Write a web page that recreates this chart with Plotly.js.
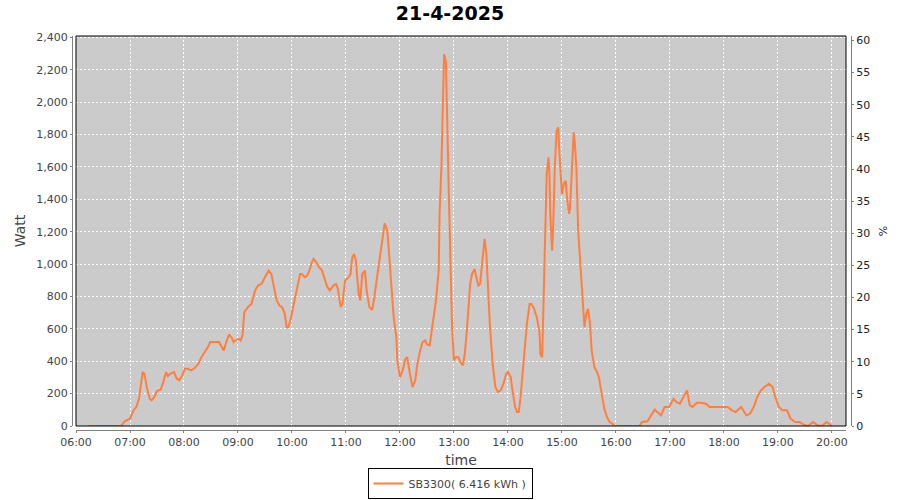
<!DOCTYPE html>
<html>
<head>
<meta charset="utf-8">
<script src="https://cdn.plot.ly/plotly-3.0.1.min.js"></script>
<style>
  html, body { margin: 0; padding: 0; background: #ffffff; }
  #chart { width: 900px; height: 500px; }
</style>
</head>
<body>
<div id="chart"></div>
<script>
const chartDate = "2025-04-21";
const chartTitle = "21-4-2025";
const seriesName = "SB3300( 6.416 kWh )";

const times = [
  "06:13","06:50","06:54","07:00","07:04","07:07","07:10","07:12","07:14","07:16",
  "07:19","07:22","07:24","07:27","07:30","07:34","07:37","07:40","07:42","07:45",
  "07:49","07:52","07:55","07:58","08:01","08:04","08:08","08:12","08:16","08:19",
  "08:23","08:27","08:29","08:34","08:39","08:41","08:44","08:47","08:50","08:53",
  "08:55","08:58","09:01","09:03","09:05","09:07","09:11","09:15","09:19","09:22",
  "09:26","09:30","09:34","09:37","09:40","09:43","09:46","09:49","09:52","09:54",
  "09:56","09:59","10:02","10:05","10:09","10:11","10:14","10:17","10:20","10:22",
  "10:24","10:27","10:30","10:33","10:36","10:39","10:42","10:46","10:49","10:51",
  "10:54","10:56","10:59","11:03","11:05","11:07","11:09","11:11","11:14","11:16",
  "11:18","11:21","11:23","11:26","11:29","11:31","11:34","11:38","11:41","11:43",
  "11:46","11:48","11:51","11:53","11:56","11:57","12:00","12:03","12:06","12:08",
  "12:11","12:14","12:17","12:19","12:22","12:25","12:28","12:30","12:33","12:35",
  "12:38","12:40","12:43","12:44","12:46","12:48","12:49","12:51","12:52","12:53",
  "12:54","12:56","12:58","13:00","13:02","13:05","13:07","13:10","13:12","13:14",
  "13:16","13:18","13:20","13:23","13:24","13:27","13:29","13:31","13:33","13:34",
  "13:36","13:38","13:40","13:43","13:46","13:49","13:52","13:55","13:58","14:00",
  "14:03","14:05","14:08","14:10","14:12","14:14","14:16","14:19","14:21","14:24",
  "14:26","14:29","14:32","14:35","14:36","14:38","14:39","14:41","14:43","14:45",
  "14:46","14:47","14:49","14:50","14:52","14:54","14:56","14:57","14:59","15:00",
  "15:02","15:04","15:06","15:08","15:09","15:11","15:13","15:14","15:16","15:18",
  "15:20","15:22","15:24","15:25","15:27","15:29","15:31","15:33","15:36","15:39",
  "15:41","15:44","15:47","15:50","15:53","15:58","16:00","16:26","16:29","16:35",
  "16:39","16:43","16:46","16:50","16:54","16:59","17:04","17:07","17:11","17:15",
  "17:19","17:22","17:25","17:30","17:34","17:40","17:44","17:53","18:04","18:09",
  "18:13","18:19","18:21","18:25","18:29","18:33","18:37","18:41","18:45","18:50",
  "18:54","18:57","19:01","19:05","19:10","19:14","19:19","19:24","19:28","19:33",
  "19:39","19:44","19:49","19:54","19:59","20:00"
];

const watts = [
  0,0,29,45,97,117,168,240,333,323,
  230,168,158,179,216,224,271,333,308,323,
  333,292,282,312,353,353,343,358,384,421,
  456,491,518,518,518,497,466,518,565,545,
  518,532,538,528,559,703,734,754,836,867,
  877,919,960,939,867,775,744,734,693,610,
  610,672,754,836,939,939,919,929,970,1011,
  1032,1011,980,964,919,861,836,867,877,847,
  734,754,898,919,939,1042,1062,1021,816,775,
  939,960,836,734,717,775,898,1062,1186,1251,
  1206,1042,857,672,549,405,302,343,415,425,
  323,240,282,374,456,518,528,503,497,569,
  693,775,960,1309,1597,2172,2295,2254,2069,1761,
  1494,960,590,405,425,425,395,374,446,569,
  734,877,939,970,939,867,877,980,1104,1155,
  1062,816,610,384,240,210,220,261,323,333,
  302,220,117,86,86,179,302,466,631,754,
  754,723,672,580,446,425,693,1104,1556,1658,
  1576,1309,1083,1186,1597,1823,1843,1700,1535,1432,
  1494,1515,1391,1309,1350,1617,1813,1771,1597,1206,
  1021,857,651,610,693,723,640,466,364,333,
  302,199,107,55,25,4,0,0,25,29,
  66,101,86,66,117,117,168,148,138,179,
  220,127,117,144,144,138,117,117,117,97,
  86,117,101,66,76,117,179,220,240,261,
  240,179,117,97,97,45,25,25,10,0,
  25,4,0,25,4,0
];

const xTickStart = "06:00";
const xRangeEnd = "20:15:36";
const wattRangeMax = 2408;
const pctRangeMax = 60.7;

const xs = times.map(t => chartDate + " " + t);

const textColor = "#444444";
const font = "DejaVu Sans, Verdana, sans-serif";

const traces = [
  {
    x: xs, y: watts, type: "scatter", mode: "lines",
    name: seriesName,
    line: { color: "#FF7F3F", width: 2 },
    xaxis: "x", yaxis: "y",
    hoverinfo: "skip"
  },
  {
    x: [xs[0]], y: [null], type: "scatter", mode: "lines",
    showlegend: false, hoverinfo: "skip",
    xaxis: "x", yaxis: "y2"
  }
];

const paperW = 779, paperH = 394;

const layout = {
  width: 900, height: 500,
  margin: { l: 72, r: 49, t: 36, b: 70, pad: 0, autoexpand: false },
  paper_bgcolor: "#ffffff",
  plot_bgcolor: "#CBCBCB",
  font: { family: font, size: 11, color: textColor },
  showlegend: true,
  title: {
    text: "<b>" + chartTitle + "</b>",
    font: { family: font, size: 19, color: "#000000" },
    x: 0.5, xref: "container", xanchor: "center",
    y: 1 - 13.5 / 500, yref: "container", yanchor: "middle"
  },
  xaxis: {
    type: "date",
    domain: [4 / paperW, 774 / paperW],
    range: [chartDate + " " + xTickStart, chartDate + " " + xRangeEnd],
    anchor: "free", position: 0,
    tickformat: "%H:%M",
    tick0: chartDate + " " + xTickStart,
    dtick: 3600000,
    ticks: "outside", ticklen: 2, tickcolor: "#808080",
    showline: true, linecolor: "#808080", linewidth: 1,
    showgrid: true, gridcolor: "#ffffff", gridwidth: 1, griddash: "2px,2px",
    zeroline: false,
    tickfont: { family: font, size: 11, color: textColor },
    title: { text: "time", font: { family: font, size: 14, color: textColor }, standoff: 8 },
    automargin: false,
    fixedrange: true
  },
  yaxis: {
    domain: [4 / paperH, 1],
    range: [0, wattRangeMax],
    anchor: "free", position: 0,
    tickmode: "linear", tick0: 0, dtick: 200,
    tickformat: ",.0f",
    ticks: "outside", ticklen: 2, tickcolor: "#808080",
    showline: true, linecolor: "#808080", linewidth: 1,
    showgrid: true, gridcolor: "#ffffff", gridwidth: 1, griddash: "2px,2px",
    zeroline: false,
    tickfont: { family: font, size: 11, color: textColor },
    title: { text: "Watt", font: { family: font, size: 14, color: textColor }, standoff: 6 },
    automargin: false,
    fixedrange: true
  },
  yaxis2: {
    overlaying: "y",
    side: "right",
    anchor: "free", position: 1,
    range: [0, pctRangeMax],
    tickmode: "linear", tick0: 0, dtick: 5,
    ticks: "outside", ticklen: 2, tickcolor: "#808080",
    showline: true, linecolor: "#808080", linewidth: 1,
    showgrid: false, zeroline: false,
    tickfont: { family: font, size: 11, color: "#222222" },
    title: { text: "%", font: { family: font, size: 11, color: "#222222" }, standoff: 10 },
    automargin: false,
    fixedrange: true
  },
  legend: {
    orientation: "h",
    xref: "container", yref: "container",
    x: 450 / 900, xanchor: "center",
    y: 0.002, yanchor: "bottom",
    bgcolor: "#ffffff",
    bordercolor: "#000000", borderwidth: 1,
    font: { family: font, size: 11, color: textColor },
    itemwidth: 30,
    tracegroupgap: 0
  },
  shapes: [
    {
      type: "rect", xref: "x domain", yref: "y domain",
      x0: 0, x1: 1, y0: 0, y1: 1,
      line: { color: "#000000", width: 1 },
      fillcolor: "rgba(0,0,0,0)",
      layer: "above"
    }
  ]
};

Plotly.newPlot("chart", traces, layout, { staticPlot: true, displayModeBar: false });
</script>
</body>
</html>
